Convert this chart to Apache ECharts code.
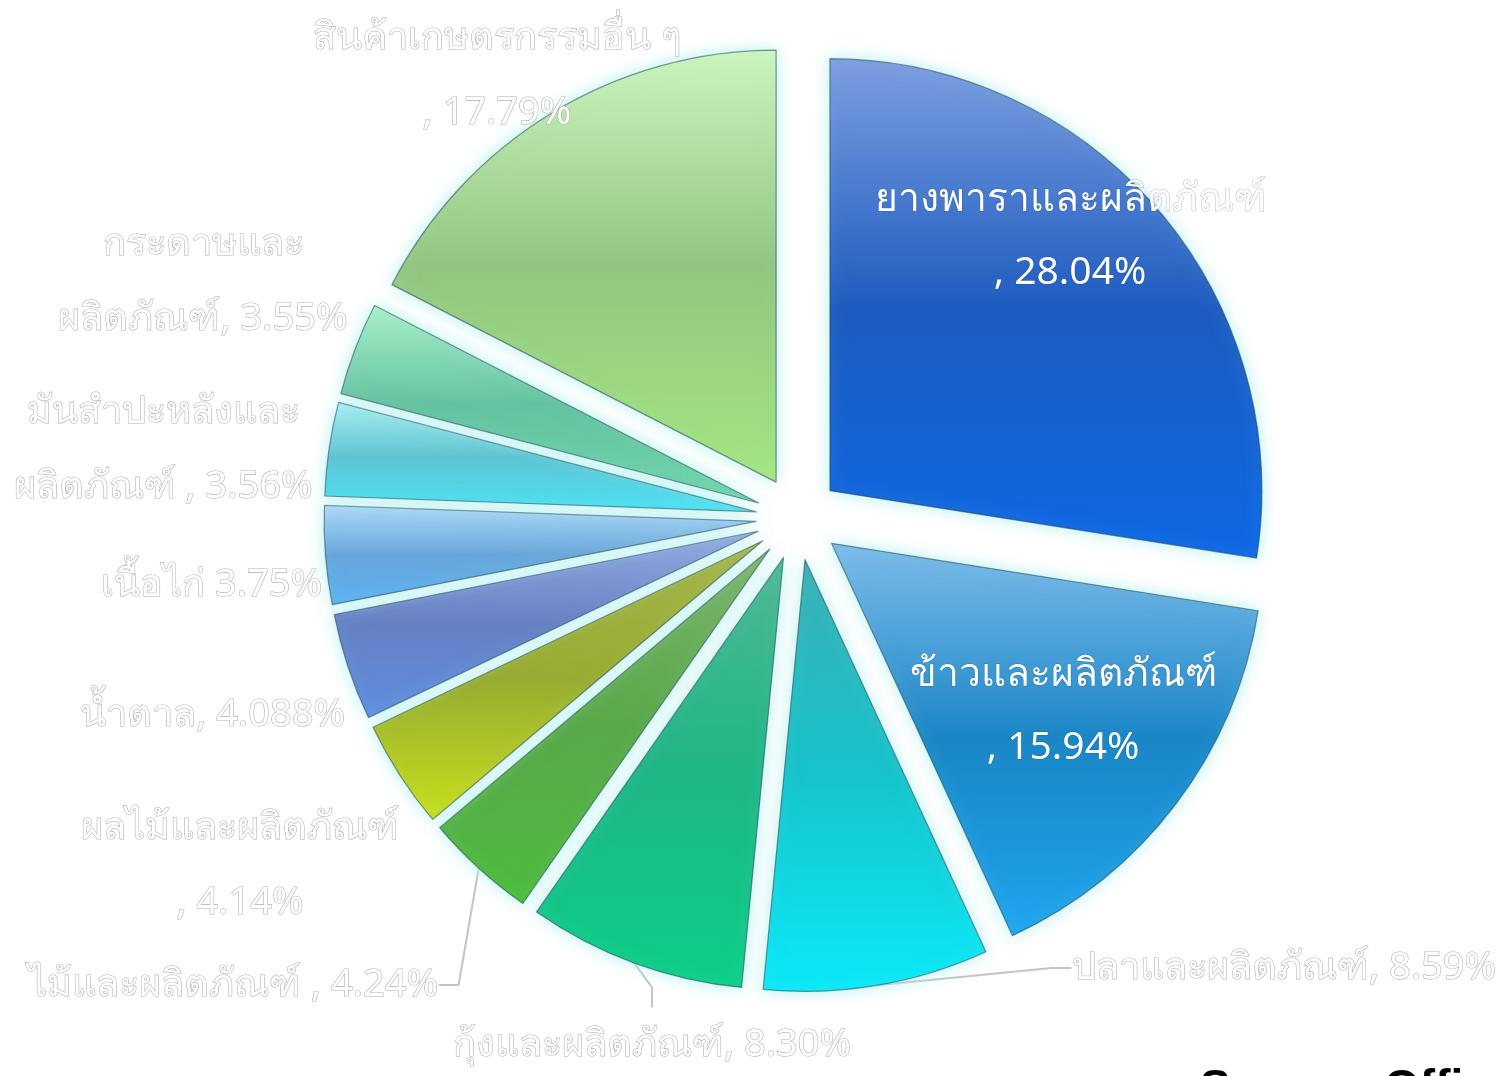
<!DOCTYPE html>
<html><head><meta charset="utf-8">
<script src="https://cdn.jsdelivr.net/npm/echarts@6/dist/echarts.min.js"></script>
<style>html,body{margin:0;padding:0;background:#fff}#chart{width:1505px;height:1076px}</style>
</head><body><div id="chart"></div>
<script>
// ---- data ----
const categories = ['ยางพาราและผลิตภัณฑ์','ข้าวและผลิตภัณฑ์','ปลาและผลิตภัณฑ์','กุ้งและผลิตภัณฑ์','ไม้และผลิตภัณฑ์','ผลไม้และผลิตภัณฑ์','น้ำตาล','เนื้อไก่','มันสำปะหลังและผลิตภัณฑ์','กระดาษและผลิตภัณฑ์','สินค้าเกษตรกรรมอื่น ๆ'];
const shares = [28.04, 15.94, 8.59, 8.30, 4.24, 4.14, 4.088, 3.75, 3.56, 3.55, 17.79];
const shareText = ['28.04','15.94','8.59','8.30','4.24','4.14','4.088','3.75','3.56','3.55','17.79'];
const labelNames = ['ยางพาราและผลิตภัณฑ์','ข้าวและผลิตภัณฑ์','ปลาและผลิตภัณฑ์','กุ้งและผลิตภัณฑ์','ไม้และผลิตภัณฑ์','ผลไม้และผลิตภัณฑ์','น้ำตาล','เนื้อไก่','มันสำปะหลังและ\nผลิตภัณฑ์','กระดาษและ\nผลิตภัณฑ์','สินค้าเกษตรกรรมอื่น ๆ'];
const labelSeparators = ['\n, ','\n, ',', ',', ',' , ','\n, ',', ',' ',' , ',', ','\n, '];
const sourceNote = 'Source: Office of Agricultural Economics';

// ---- styles / layout (not data) ----
const palette = [
  ['#7d9ee0','#1d5cc0','#0d68e6'],
  ['#7cbbea','#1a86c6','#1ea6f0'],
  ['#3aaeb4','#16c4cc','#0aeaf8'],
  ['#4fb894','#1eb686','#0ccf88'],
  ['#7ab46a','#5aa84a','#4cbc3c'],
  ['#a6b44a','#98ac30','#c8e01c'],
  ['#94ace2','#6680c4','#5e8ee0'],
  ['#aedaf8','#68a6da','#5cb2f2'],
  ['#aaeef2','#5ec4d2','#4ae4f6'],
  ['#a8f0c8','#64c2a0','#6ed6aa'],
  ['#cdf5bd','#92c680','#a4e682']
];
const labelAnchors = [
  {x:1070, y:236, align:'center'},
  {x:1063, y:711, align:'center'},
  {x:1072, y:968, align:'left'},
  {x:652, y:1045, align:'center'},
  {x:438, y:985, align:'right'},
  {x:240, y:866, align:'center'},
  {x:345, y:715, align:'right'},
  {x:322, y:585, align:'right'},
  {x:163, y:450, align:'center'},
  {x:203, y:282, align:'center'},
  {x:497, y:76, align:'center'}
];
const insideIdx = [0, 1];
const lineIdx = [2, 3, 4];
const CENTER = [798, 518], R = 432, OFFSET = 42;

function grad(c){
  return new echarts.graphic.LinearGradient(0,0,0,1,[
    {offset:0,color:c[0]},{offset:0.5,color:c[1]},{offset:1,color:c[2]}]);
}
const thaiFont = "'Noto Sans','DejaVu Sans','Liberation Sans',sans-serif";

const sliceData = categories.map((n,i)=>{
  const st = {
    color: grad(palette[i]),
    borderColor: 'rgba(30,70,80,0.55)',
    borderWidth: 1.2,
    shadowBlur: 16,
    shadowColor: 'rgba(175,240,240,0.95)'
  };
  return { name: n, value: shares[i], selected: true, itemStyle: st, select: { itemStyle: st } };
});

const labelData = categories.map((n,i)=>{
  const inside = insideIdx.includes(i);
  return {
    name: n,
    value: shares[i],
    label: {
      show: true,
      position: inside ? 'inside' : 'outside',
      formatter: labelNames[i] + labelSeparators[i] + shareText[i] + '%',
      fontFamily: thaiFont,
      fontSize: inside ? 39 : 38,
      lineHeight: inside ? 73 : 75,
      color: '#ffffff',
      textBorderColor: inside ? 'rgba(20,60,120,0.35)' : '#b0b0b0',
      textBorderWidth: inside ? 1 : 1.2,
      align: 'center'
    },
    labelLine: {
      show: lineIdx.includes(i),
      length: 20, length2: 20,
      lineStyle: {color:'#c4c4c4', width:2}
    }
  };
});

const chart = echarts.init(document.getElementById('chart'), null, {renderer:'canvas'});
chart.setOption({
  backgroundColor: '#ffffff',
  animation: false,
  graphic: [{
    type: 'text',
    left: 1200, top: 1066,
    style: { text: sourceNote, fontSize: 46, fontWeight: 'bold', fontFamily: "'Liberation Sans',Arial,sans-serif", fill: '#000' }
  }],
  series: [{
    type: 'pie',
    center: CENTER,
    radius: R,
    startAngle: 90,
    clockwise: true,
    selectedMode: 'multiple',
    selectedOffset: OFFSET,
    emphasis: { disabled: true },
    label: { show: false },
    labelLine: { show: false },
    data: sliceData
  }, {
    type: 'pie',
    silent: true,
    center: CENTER,
    radius: R + OFFSET,
    startAngle: 90,
    clockwise: true,
    avoidLabelOverlap: false,
    emphasis: { disabled: true },
    itemStyle: { color: 'rgba(0,0,0,0)', borderWidth: 0 },
    labelLayout: function(p){
      const a = labelAnchors[p.dataIndex];
      return { x: a.x, y: a.y, align: a.align, verticalAlign: 'middle' };
    },
    data: labelData
  }]
});
</script></body></html>
